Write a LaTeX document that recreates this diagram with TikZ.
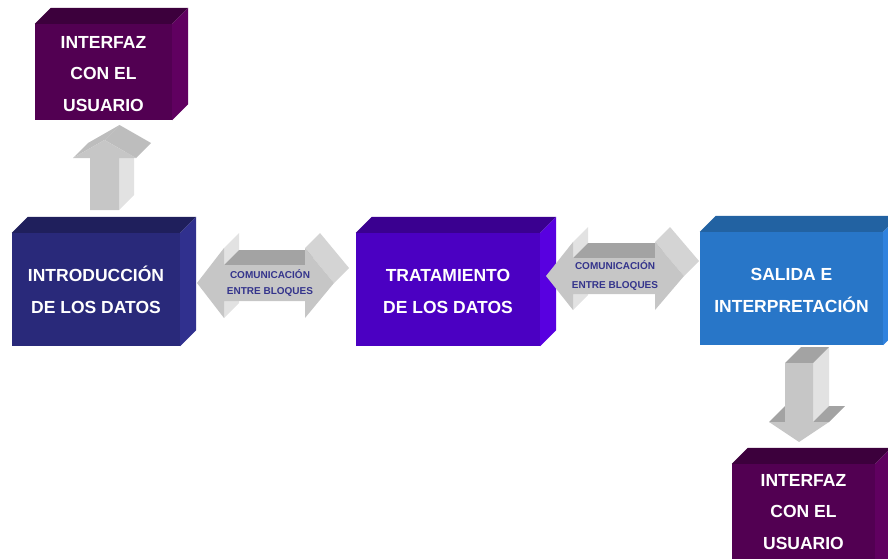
\documentclass[tikz,border=0pt]{standalone}
\usepackage{fontspec}
\setmainfont{Liberation Sans}
\usetikzlibrary{calc}
\definecolor{ifFront}{HTML}{520052}
\definecolor{ifTop}{HTML}{3C003C}
\definecolor{ifSide}{HTML}{600060}
\definecolor{inFront}{HTML}{29297A}
\definecolor{inTop}{HTML}{1F1F5C}
\definecolor{inSide}{HTML}{30308E}
\definecolor{trFront}{HTML}{4B00C2}
\definecolor{trTop}{HTML}{3A0090}
\definecolor{trSide}{HTML}{5800E0}
\definecolor{saFront}{HTML}{2876C8}
\definecolor{saTop}{HTML}{2262A2}
\definecolor{saSide}{HTML}{2F82DE}
\definecolor{arFront}{HTML}{C6C6C6}
\definecolor{arDark}{HTML}{A3A3A3}
\definecolor{arLight}{HTML}{E2E2E2}
\definecolor{arHead}{HTML}{D4D4D4}
\definecolor{arUpTop}{HTML}{BDBDBD}
\definecolor{comText}{HTML}{34348C}
\newcommand\cubefaces[3]{%
  \fill[#2] (#1.north west) -- ++(16,-16) -- ($(#1.north east)+(16,-16)$) -- (#1.north east) -- cycle;
  \fill[#3] (#1.north east) -- ++(16,-16) -- ($(#1.south east)+(16,-16)$) -- (#1.south east) -- cycle;}
\newcommand\topstrut{\rule{0pt}{16pt}}
\begin{document}
\begin{tikzpicture}[x=1pt,y=-1pt,
  block/.style={rectangle, inner sep=0pt, text=white, align=center, font=\bfseries\fontsize{17.5}{31.5}\selectfont},
  comlabel/.style={inner sep=0pt, align=center, text=comText, font=\bfseries\fontsize{10}{16}\selectfont},
  arfront/.style={fill=arFront},
  ardark/.style={fill=arDark},
  arlight/.style={fill=arLight},
  arhead/.style={fill=arHead},
  aruptop/.style={fill=arUpTop}]
\useasboundingbox (0,0) rectangle (888,559);
\clip (0,0) rectangle (888,559);

% boxes
\node[block, fill=ifFront, minimum width=137pt, minimum height=96pt] (iftop) at (103.5,72) {\topstrut INTERFAZ\\CON EL\\USUARIO};
\node[block, fill=inFront, minimum width=168pt, minimum height=113pt] (intro) at (96,289.5) {\topstrut INTRODUCCIÓN\\DE LOS DATOS};
\node[block, fill=trFront, minimum width=184pt, minimum height=113pt] (trat) at (448,289.5) {\topstrut TRATAMIENTO\\DE LOS DATOS};
\node[block, fill=saFront, minimum width=183pt, minimum height=113pt] (sal) at (791.5,288.5) {\topstrut SALIDA E\\INTERPRETACIÓN};
\node[block, fill=ifFront, minimum width=143pt, minimum height=96pt] (ifbot) at (803.5,512) {INTERFAZ\\CON EL\\USUARIO};

\cubefaces{iftop}{ifTop}{ifSide}
\cubefaces{intro}{inTop}{inSide}
\cubefaces{trat}{trTop}{trSide}
\cubefaces{sal}{saTop}{saSide}
\fill[ifTop] (ifbot.north west) -- ++(16,-16) -- ($(ifbot.north east)+(16,-16)$) -- (ifbot.north east) -- cycle;
\fill[ifSide] (ifbot.north east) -- ++(16,-16) -- ++(0,140) -- ($(ifbot.north east)+(0,140)$) -- cycle;

% up arrow (intro -> interfaz)
\fill[arlight] (119,158) -- (119,210) -- (134,195) -- (134,143) -- cycle;
\fill[aruptop] (73,158) -- (104.5,140) -- (119.5,125) -- (88,143) -- cycle;
\fill[aruptop] (104.5,140) -- (136,158) -- (151,143) -- (119.5,125) -- cycle;
\fill[arfront] (90,210) -- (90,158) -- (73,158) -- (104.5,140) -- (136,158) -- (119,158) -- (119,210) -- cycle;

% double arrow 1
\fill[arlight] (224,248) -- (224,265) -- (239,250) -- (239,233) -- cycle;
\fill[ardark] (224,265) -- (305,265) -- (320,250) -- (239,250) -- cycle;
\fill[arhead] (305,248) -- (334,283) -- (349,268) -- (320,233) -- cycle;
\fill[arlight] (224,301) -- (224,318) -- (239,303) -- (239,286) -- cycle;
\fill[arfront] (197,283) -- (224,248) -- (224,265) -- (305,265) -- (305,248) -- (334,283) -- (305,318) -- (305,301) -- (224,301) -- (224,318) -- cycle;
\node[comlabel] (com1) at (270,283.5) {COMUNICACIÓN\\ENTRE BLOQUES};

% double arrow 2
\fill[arlight] (573,242) -- (573,258) -- (588,243) -- (588,227) -- cycle;
\fill[ardark] (573,258) -- (655,258) -- (670,243) -- (588,243) -- cycle;
\fill[arhead] (655,242) -- (684,276) -- (699,261) -- (670,227) -- cycle;
\fill[arlight] (573,294) -- (573,310) -- (588,295) -- (588,279) -- cycle;
\fill[arfront] (546,276) -- (573,242) -- (573,258) -- (655,258) -- (655,242) -- (684,276) -- (655,310) -- (655,294) -- (573,294) -- (573,310) -- cycle;
\node[comlabel, font=\bfseries\fontsize{10}{19}\selectfont] (com2) at (615,276) {COMUNICACIÓN\\ENTRE BLOQUES};

% down arrow (salida -> interfaz)
\fill[arlight] (813,363) -- (813,422) -- (829,406) -- (829,347) -- cycle;
\fill[ardark] (785,363) -- (813,363) -- (829,347) -- (801,347) -- cycle;
\fill[ardark] (769,422) -- (785,422) -- (801,406) -- (785,406) -- cycle;
\fill[ardark] (813,422) -- (829,422) -- (845,406) -- (829,406) -- cycle;
\fill[arfront] (785,363) -- (813,363) -- (813,422) -- (829,422) -- (799,442) -- (769,422) -- (785,422) -- cycle;
\end{tikzpicture}
\end{document}
